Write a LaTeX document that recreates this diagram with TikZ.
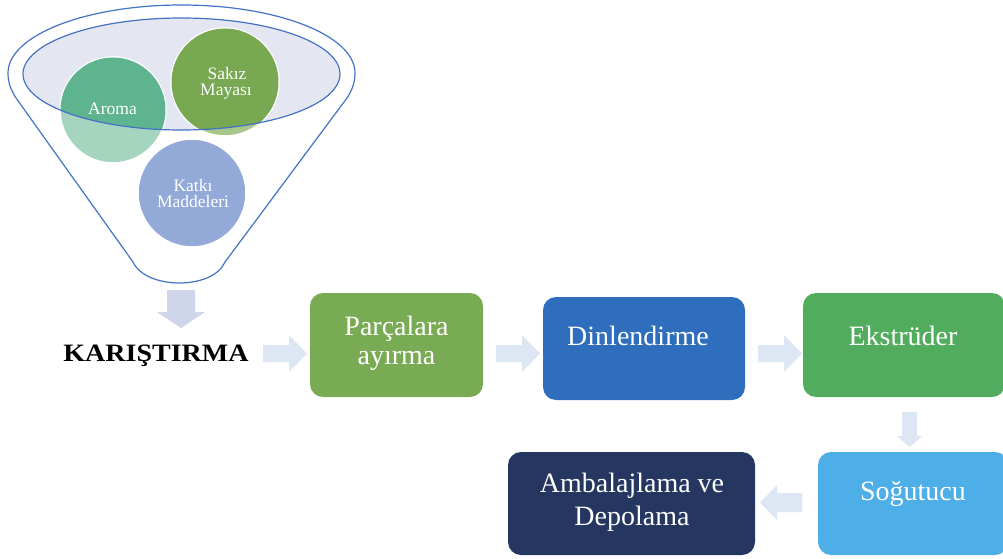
\documentclass[tikz,border=0pt]{standalone}
\usepackage{fontspec}
\setmainfont{Liberation Serif}
\usetikzlibrary{calc}
\definecolor{funline}{HTML}{4472C4}
\definecolor{ellfill}{HTML}{E4E7F1}
\definecolor{aromaD}{HTML}{5EB48E}
\definecolor{aromaL}{HTML}{A5D5BF}
\definecolor{sakizD}{HTML}{78A851}
\definecolor{sakizL}{HTML}{A9C68A}
\definecolor{katki}{HTML}{93A9D8}
\definecolor{arrC}{HTML}{DDE7F3}
\definecolor{arrD}{HTML}{CFD5EA}
\definecolor{parcC}{HTML}{79AB54}
\definecolor{dinlC}{HTML}{2E6EBD}
\definecolor{ekstC}{HTML}{51AC5D}
\definecolor{soguC}{HTML}{4DAEE8}
\definecolor{ambaC}{HTML}{253660}
\tikzset{
  x=1pt, y=-1pt,
  stepbox/.style={rectangle, rounded corners=13pt, inner sep=0pt, draw=none},
  bigtxt/.style={text=white, font=\fontsize{28}{33}\selectfont, inner sep=0pt, anchor=base},
  smalltxt/.style={text=white, font=\fontsize{17.5}{19}\selectfont, inner sep=0pt, anchor=base},
  ball/.style={circle, inner sep=0pt, draw=white, line width=1.5pt},
  pics/barrow/.style n args={4}{code={
    \fill (0,-#3) -- (#1-#2,-#3) -- (#1-#2,-#4) -- (#1,0) -- (#1-#2,#4) -- (#1-#2,#3) -- (0,#3) -- cycle;
  }}
}
\begin{document}
\begin{tikzpicture}
\useasboundingbox (0,0) rectangle (1003,559);
\fill[white] (0,0) rectangle (1003,559);
% funnel outer
\draw[funline, line width=1.2pt, fill=white]
  (8,73) .. controls (8,35.4) and (85.7,5) .. (181.5,5)
  .. controls (277.3,5) and (355,35.4) .. (355,73)
  .. controls (355,83) and (352,90) .. (347,98)
  -- (225,262)
  .. controls (213,290) and (146,290) .. (133,262)
  -- (16,98)
  .. controls (11,90) and (8,83) .. (8,73) -- cycle;
% inner ellipse fill
\fill[ellfill] (181.5,74) ellipse [x radius=158.5, y radius=56];
% circles
\node[ball, fill=aromaL, minimum size=106pt] (aroma) at (113,110) {};
\node[ball, fill=sakizL, minimum size=108pt] (sakiz) at (225,82) {};
\begin{scope}
  \clip (181.5,74) ellipse [x radius=158.5, y radius=56];
  \fill[aromaD] (aroma.center) circle (52.5pt);
  \fill[sakizD] (sakiz.center) circle (53.5pt);
\end{scope}
\node[ball, fill=katki, minimum size=108pt] (katki) at (192,193) {};
% ellipse outline
\draw[funline, line width=1.2pt] (181.5,74) ellipse [x radius=158.5, y radius=56];
% circle texts
\node[smalltxt] (taroma) at (112.5,114) {Aroma};
\node[smalltxt] (tsak1) at (227,80) {Sakız};
\node[smalltxt] (tsak2) at (226,96) {Mayası};
\node[smalltxt] (tkat1) at (193,191) {Katkı};
\node[smalltxt] (tkat2) at (193,207) {Maddeleri};
% down arrow under funnel
\pic[arrD, rotate=-90] at (181,290) {barrow={38}{16}{14}{24}};
% KARISTIRMA
\node[inner sep=0pt, anchor=base, font=\fontsize{25}{30}\selectfont\bfseries] (kar) at (156,361) {\scalebox{1.12}[1]{KARIŞTIRMA}};
% boxes
\node[stepbox, fill=parcC, minimum width=173pt, minimum height=104pt] (parc) at (396.5,345) {};
\node[stepbox, fill=dinlC, minimum width=202pt, minimum height=103pt] (dinl) at (644,348.5) {};
\node[stepbox, fill=ekstC, minimum width=202pt, minimum height=104pt] (ekst) at (904,345) {};
\node[stepbox, fill=soguC, minimum width=190pt, minimum height=103pt] (sogu) at (913,503.5) {};
\node[stepbox, fill=ambaC, minimum width=247pt, minimum height=103pt] (amba) at (631.5,503.5) {};
% box texts
\node[bigtxt] (tparc1) at (396.5,335) {Parçalara};
\node[bigtxt] (tparc2) at (396.5,364) {ayırma};
\node[bigtxt] (tdinl) at (638,345) {Dinlendirme};
\node[bigtxt] (tekst) at (903,345) {Ekstrüder};
\node[bigtxt] (tsogu) at (913,500) {Soğutucu};
\node[bigtxt] (tamba1) at (632,492) {Ambalajlama ve};
\node[bigtxt] (tamba2) at (632,525) {Depolama};
% arrows
\pic[arrC] at (263,353.5) {barrow={44}{18}{8.5}{18.5}};
\pic[arrC] at (496,353.5) {barrow={44}{18}{8.5}{18.5}};
\pic[arrC] at (758,353.5) {barrow={44}{18}{8.5}{18.5}};
\pic[arrC, rotate=-90] at (909.5,412) {barrow={35}{11}{7.5}{13}};
\pic[arrC, rotate=180] at (802,502.5) {barrow={42}{17}{9.5}{17.5}};
\end{tikzpicture}
\end{document}
